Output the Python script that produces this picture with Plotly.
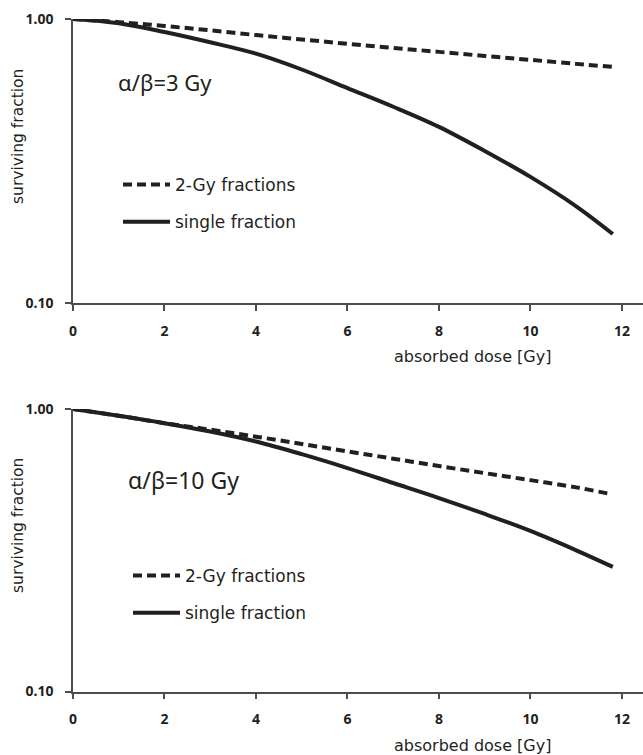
import plotly.graph_objects as go

# ---- data ----
dose = [0, 1, 2, 3, 4, 5, 6, 7, 8, 9, 10, 11, 11.8]

# alpha/beta = 3 Gy
sf3_single = [1.00, 0.966, 0.90, 0.828, 0.755, 0.664, 0.571, 0.491, 0.417, 0.343, 0.278, 0.219, 0.175]
sf3_frac   = [1.00, 0.975, 0.945, 0.912, 0.878, 0.847, 0.818, 0.791, 0.766, 0.741, 0.718, 0.695, 0.678]

# alpha/beta = 10 Gy
sf10_single = [1.00, 0.946, 0.891, 0.832, 0.767, 0.692, 0.618, 0.547, 0.484, 0.425, 0.370, 0.316, 0.276]
dose10_frac = [0, 1, 2, 3, 4, 5, 6, 7, 8, 9, 10, 11, 11.7]
sf10_frac   = [1.00, 0.946, 0.891, 0.845, 0.798, 0.752, 0.708, 0.667, 0.628, 0.593, 0.560, 0.528, 0.502]

ytick_vals = [0.1, 1.0]
ytick_text = ["0.10", "1.00"]
xtick_vals = [0, 2, 4, 6, 8, 10, 12]
xtick_text = ["0", "2", "4", "6", "8", "10", "12"]

INK = "#231f20"
FONT = "Noto Sans"
TFONT = "DejaVu Sans"
W, H = 643, 755

fig = go.Figure()

def add_pair(xs_f, ys_f, xs_s, ys_s, xa, ya, leg):
    fig.add_trace(go.Scatter(x=xs_f, y=ys_f, mode="lines", name="2-Gy fractions",
                             line=dict(color=INK, width=4, dash="9px,5px", shape="spline"),
                             xaxis=xa, yaxis=ya, legend=leg, legendgroup=leg + "a",
                             cliponaxis=False))
    fig.add_trace(go.Scatter(x=xs_s, y=ys_s, mode="lines", name="single fraction",
                             line=dict(color=INK, width=4, shape="spline"),
                             xaxis=xa, yaxis=ya, legend=leg, legendgroup=leg + "b",
                             cliponaxis=False))

add_pair(dose, sf3_frac, dose, sf3_single, "x", "y", "legend")
add_pair(dose10_frac, sf10_frac, dose, sf10_single, "x2", "y2", "legend2")

x0 = 73 / W
xax = dict(range=[0, 12.46], domain=[x0, 1.0], showgrid=False, zeroline=False,
           showline=True, linecolor="#4d4d4d", linewidth=1.5, automargin=False,
           ticks="outside", ticklen=6, tickwidth=1.5, tickcolor="#4d4d4d",
           tickvals=xtick_vals, ticktext=xtick_text, ticklabelstandoff=8,
           tickfont=dict(family=FONT, size=14, color=INK, weight="bold"))
yax = dict(type="log", range=[-1, 0], showgrid=False, zeroline=False,
           showline=True, linecolor="#4d4d4d", linewidth=1.5, automargin=False,
           ticks="outside", ticklen=6, tickwidth=1.5, tickcolor="#4d4d4d",
           tickvals=ytick_vals, ticktext=ytick_text, ticklabelstandoff=9,
           tickfont=dict(family=FONT, size=14, color=INK, weight="bold"))

def py(px):
    return (H - px) / H

leg_common = dict(xanchor="left", yanchor="top",
                  font=dict(family=TFONT, size=17, color=INK),
                  bgcolor="rgba(0,0,0,0)", tracegroupgap=12, itemwidth=47,
                  traceorder="grouped")

fig.update_layout(
    width=W, height=H,
    margin=dict(l=0, r=0, t=0, b=0, autoexpand=False),
    paper_bgcolor="white", plot_bgcolor="white",
    showlegend=True,
    xaxis=dict(xax, anchor="y"),
    yaxis=dict(yax, domain=[py(303), py(19)], anchor="x"),
    xaxis2=dict(xax, anchor="y2"),
    yaxis2=dict(yax, domain=[py(691.5), py(409)], anchor="x2"),
    legend=dict(leg_common, x=118 / W, y=py(167)),
    legend2=dict(leg_common, x=128 / W, y=py(558)),
)

annotations = [
    dict(text="surviving fraction", x=18 / W, y=py(137), textangle=-90, size=15.5),
    dict(text="surviving fraction", x=18 / W, y=py(526), textangle=-90, size=15.5),
    dict(text="absorbed dose [Gy]", x=472 / W, y=py(357), size=16),
    dict(text="absorbed dose [Gy]", x=472 / W, y=py(745), size=16),
]
for a in annotations:
    sz = a.pop("size")
    fig.add_annotation(xref="paper", yref="paper", showarrow=False,
                       xanchor="center", yanchor="middle",
                       font=dict(family=TFONT, size=sz, color=INK), **a)

fig.add_annotation(text="α/β=3 Gy", xref="paper", yref="paper", x=116 / W, y=py(82),
                   xanchor="left", yanchor="middle", showarrow=False,
                   font=dict(family=FONT, size=22, color=INK))
fig.add_annotation(text="α/β=10 Gy", xref="paper", yref="paper", x=126 / W, y=py(480),
                   xanchor="left", yanchor="middle", showarrow=False,
                   font=dict(family=FONT, size=23, color=INK))

fig.write_html("out.html")
